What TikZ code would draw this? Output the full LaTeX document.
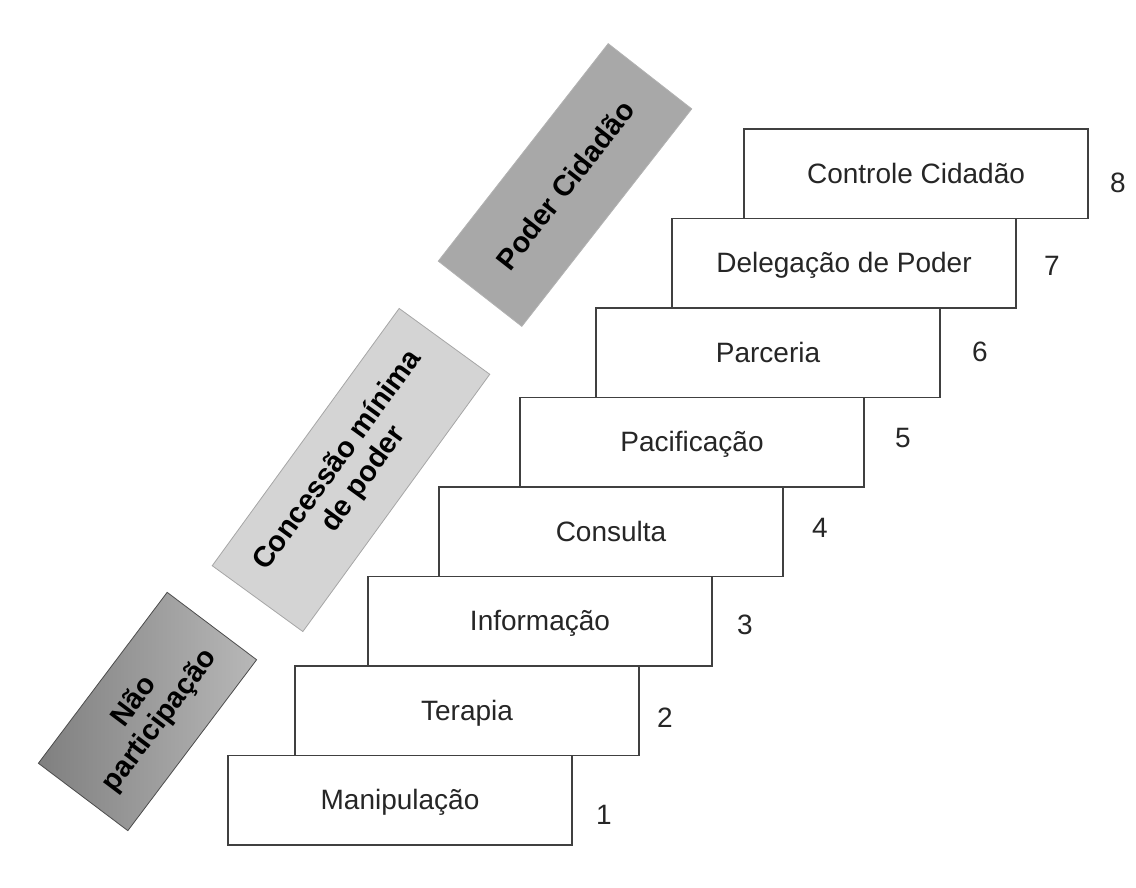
\documentclass[tikz,border=0pt]{standalone}
\usepackage{fontspec}
\setmainfont{Liberation Sans}
\usepackage{tikz}
\usetikzlibrary{positioning}

\begin{document}
\begin{tikzpicture}[x=0.5pt, y=0.5pt,
  degrau/.style={draw=black!75, line width=0.8pt, fill=white, inner sep=0pt,
    minimum width=172pt, minimum height=44.75pt, text=black!85,
    text height=1.05em, text depth=0.1em,
    font=\fontsize{14}{17}\selectfont},
  numero/.style={text=black!85, font=\fontsize{14}{17}\selectfont},
  nivel/.style={inner sep=0pt, minimum height=56pt, align=center,
    font=\bfseries\fontsize{14.5}{16}\selectfont}]
\useasboundingbox (0,0) rectangle (1136,-888);
\node[nivel, rotate=53, minimum width=107pt, draw=black!70, left color=black!50, right color=black!28] (naopart) at (147.5,-711.5) {N\~ao\\participa\c{c}\~ao};
\node[nivel, rotate=54, minimum width=159pt, draw=black!35, fill=black!17] (concessao) at (351,-470) {Concess\~ao m\'inima\\de poder};
\node[nivel, rotate=52, minimum width=138pt, minimum height=53pt, draw=black!30, fill=black!34] (poder) at (565,-185) {Poder Cidad\~ao};
\node[degrau] (manip) at (400,-800.25) {Manipula\c{c}\~ao};
\node[degrau] (terapia) at (467,-710.75) {Terapia};
\node[degrau] (info) at (540,-621.25) {Informa\c{c}\~ao};
\node[degrau] (consulta) at (611,-531.75) {Consulta};
\node[degrau] (pacif) at (692,-442.25) {Pacifica\c{c}\~ao};
\node[degrau] (parceria) at (768,-352.75) {Parceria};
\node[degrau] (delega) at (844,-263.25) {Delega\c{c}\~ao de Poder};
\node[degrau] (controle) at (916,-173.75) {Controle Cidad\~ao};
\node[numero] (n1) at (604,-815) {1};
\node[numero] (n2) at (665,-718) {2};
\node[numero] (n3) at (745,-625) {3};
\node[numero] (n4) at (820,-528) {4};
\node[numero] (n5) at (903,-438) {5};
\node[numero] (n6) at (980,-352) {6};
\node[numero] (n7) at (1052,-266) {7};
\node[numero] (n8) at (1118,-183) {8};
\end{tikzpicture}
\end{document}
